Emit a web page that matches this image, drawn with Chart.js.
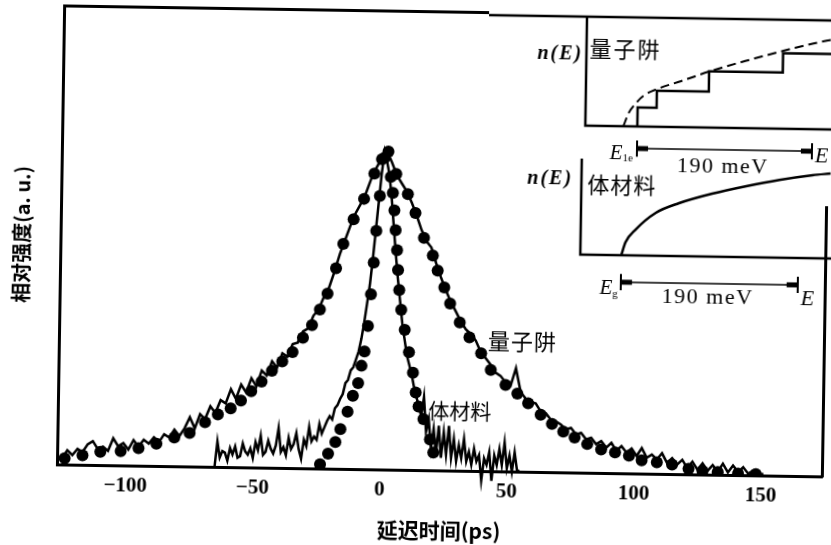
<!DOCTYPE html>
<html>
<head>
<meta charset="utf-8">
<script src="https://cdn.jsdelivr.net/npm/chart.js@4.4.1/dist/chart.umd.min.js"></script>
<style>
  html, body { margin: 0; padding: 0; background: #fff; overflow: hidden; }
  #wrap { position: relative; width: 831px; height: 545px; transform: rotate(0.9deg); transform-origin: 50% 50%; }
  canvas { position: absolute; }
  #main { left: 0; top: 0; }
  #insetQW { left: 485px; top: -4px; }
  #insetBulk { left: 485px; top: 146px; }
</style>
</head>
<body>
<div id="wrap">
  <canvas id="main" width="831" height="545"></canvas>
  <canvas id="insetQW" width="346" height="204"></canvas>
  <canvas id="insetBulk" width="346" height="175"></canvas>
</div>
<script>
// x axis ticks (delay, ps)
const xTicks = [-100, -50, 0, 50, 100, 150]
const xTickLabels = ['−100', '−50', '0', '50', '100', '150']

// quantum well: fitted points (dots)
const qwDotT = [-124, -117, -110, -102, -95, -88, -81, -75, -69, -64, -59, -55, -51, -47, -43,
  -39, -35, -31, -27.5, -24.5, -21.6, -18.4, -15.7, -11.8, -7.8, -3.9, -1, 1.5, 4.7, 9.4,
  12.5, 16, 19.6, 21.6, 24.3, 26.7, 30.6, 34.5, 39.2, 43.1, 49, 53.7, 58, 63, 67.5,
  72, 76.5, 81.5, 87, 92.5, 98, 103, 109, 115, 121.5, 127, 133, 141, 148]
const qwDotI = [0.02, 0.03, 0.042, 0.045, 0.055, 0.07, 0.09, 0.105, 0.14, 0.165, 0.185, 0.21, 0.24, 0.27, 0.305,
  0.335, 0.365, 0.41, 0.45, 0.5, 0.55, 0.63, 0.707, 0.785, 0.85, 0.93, 0.975, 1.0, 0.93, 0.867,
  0.808, 0.73, 0.675, 0.628, 0.575, 0.525, 0.466, 0.42, 0.37, 0.318, 0.272, 0.245, 0.215, 0.18, 0.152,
  0.128, 0.11, 0.09, 0.074, 0.065, 0.056, 0.042, 0.036, 0.03, 0.017, 0.011, 0.009, 0.005, 0.004]

// quantum well: measured trace
const qwLineT = [-125, -123, -121, -119, -117, -115, -113, -111, -109, -107, -105, -103, -101, -99, -97,
  -95, -93, -91, -89, -87, -85, -83, -81, -79, -77, -75, -73, -71, -69, -67,
  -65, -63, -61, -59, -57, -55, -53, -51, -49, -47, -45, -43, -41, -39, -37,
  -35, -33, -31, -29, -27, -25, -23, -21, -19, -17, -15, -13, -11, -9, -7,
  -5, -3, -1, 1, 3, 5, 7, 9, 11, 13, 15, 17, 19, 21, 23,
  25, 27, 29, 31, 33, 35, 37, 39, 41, 43, 45, 47, 49, 51, 53,
  55, 57, 59, 61, 63, 65, 67, 69, 71, 73, 75, 77, 79, 81, 83,
  85, 87, 89, 91, 93, 95, 97, 99, 101, 103, 105, 107, 109, 111, 113,
  115, 117, 119, 121, 123, 125, 127, 129, 131, 133, 135, 137, 139, 141, 143,
  145, 147, 149, 151]
const qwLineI = [0.02, 0.045, 0.03, 0.05, 0.04, 0.065, 0.075, 0.05, 0.058, 0.045, 0.085, 0.06, 0.07, 0.05, 0.08,
  0.06, 0.082, 0.07, 0.09, 0.075, 0.1, 0.09, 0.115, 0.095, 0.12, 0.155, 0.12, 0.165, 0.15, 0.19,
  0.17, 0.21, 0.2, 0.245, 0.215, 0.26, 0.235, 0.28, 0.255, 0.305, 0.29, 0.335, 0.315, 0.36, 0.35,
  0.39, 0.395, 0.43, 0.44, 0.48, 0.5, 0.54, 0.57, 0.62, 0.675, 0.72, 0.765, 0.805, 0.835, 0.87,
  0.915, 0.95, 0.98, 1.0, 0.965, 0.925, 0.9, 0.875, 0.84, 0.8, 0.755, 0.72, 0.7, 0.65, 0.605,
  0.565, 0.53, 0.5, 0.47, 0.445, 0.43, 0.41, 0.375, 0.355, 0.335, 0.31, 0.3, 0.28, 0.27, 0.325,
  0.25, 0.23, 0.22, 0.215, 0.19, 0.185, 0.165, 0.16, 0.15, 0.135, 0.14, 0.12, 0.125, 0.105, 0.11,
  0.09, 0.1, 0.08, 0.095, 0.07, 0.085, 0.065, 0.078, 0.055, 0.08, 0.05, 0.06, 0.045, 0.065, 0.035,
  0.05, 0.03, 0.045, 0.02, 0.04, 0.015, 0.035, 0.012, 0.03, 0.01, 0.035, 0.008, 0.03, 0.01, 0.025,
  0.005, 0.015, 0.003, 0.005]

// bulk material: fitted points (dots)
const bulkDotT = [-23.5, -20.4, -17.6, -15.7, -13, -11, -9, -7.8, -6.7, -5.5, -4.5, -3.6, -2.8, -1.6, 0,
  2.6, 3.5, 4.2, 4.8, 5.5, 6, 6.6, 7.5, 9, 10.8, 12.5, 13.7, 14.9, 16.9, 19.6, 21]
const bulkDotI = [0.013, 0.047, 0.084, 0.125, 0.18, 0.23, 0.27, 0.325, 0.37, 0.45, 0.55, 0.65, 0.75, 0.86, 0.98,
  0.92, 0.87, 0.815, 0.753, 0.69, 0.628, 0.565, 0.503, 0.44, 0.37, 0.306, 0.244, 0.2, 0.16, 0.097, 0.056]

// bulk material: measured trace
const bulkLineT = [-65, -64, -63, -62, -61, -60, -59, -58, -57, -56, -55, -54, -53, -52, -51,
  -50, -49, -48, -47, -46, -45, -44, -43, -42, -41, -40, -39, -38, -37, -36,
  -35, -34, -33, -32, -31, -30, -29, -28, -27, -26, -25, -24, -23, -22, -21,
  -20, -19, -18, -17, -16, -15, -14, -13, -12, -11, -10, -9, -8, -7, -6,
  -5, -4, -3, -2, -1, 0, 1, 2, 3, 4, 5, 6, 7, 8, 9,
  10, 11, 12, 13, 14, 15, 16, 17, 18, 19, 20, 21, 22, 23, 24,
  25, 26, 27, 28, 29, 30, 31, 32, 33, 34, 35, 36, 37, 38, 39,
  40, 41, 42, 43, 44, 45, 46, 47, 48, 49, 50, 51, 52, 53, 54, 55]
const bulkLineI = [0.0, 0.08, 0.03, 0.05, 0.045, 0.02, 0.06, 0.04, 0.065, 0.03, 0.035, 0.075, 0.05, 0.04, 0.06,
  0.03, 0.08, 0.055, 0.1, 0.04, 0.05, 0.085, 0.06, 0.045, 0.07, 0.125, 0.05, 0.065, 0.04, 0.095,
  0.06, 0.075, 0.11, 0.06, 0.03, 0.09, 0.07, 0.13, 0.085, 0.1, 0.09, 0.14, 0.11, 0.13, 0.15,
  0.165, 0.155, 0.19, 0.2, 0.22, 0.235, 0.27, 0.28, 0.31, 0.32, 0.345, 0.37, 0.41, 0.46, 0.52,
  0.58, 0.66, 0.75, 0.84, 0.93, 1.0, 0.97, 0.93, 0.86, 0.77, 0.68, 0.6, 0.53, 0.46, 0.41,
  0.36, 0.33, 0.3, 0.26, 0.23, 0.2, 0.17, 0.23, 0.12, 0.16, 0.07, 0.13, 0.05, 0.14, 0.04,
  0.12, 0.05, 0.14, 0.04, 0.1, 0.03, 0.08, 0.04, 0.1, 0.03, 0.06, 0.02, 0.07, 0.03, 0.05,
  -0.03, 0.04, 0.02, 0.06, -0.03, 0.05, 0.02, 0.07, 0.02, 0.09, 0.01, 0.05, 0.0, 0.06, 0.005, 0.0]

// inset: density of states, energy in meV (QW from E1e, bulk from Eg)
const spanMeV = 190
const qwStepE = [0, 20.6, 77, 157, 210.6]
const qwStepN = [0, 0.176, 0.333, 0.52, 0.70]
const qwEnvE = [-15.2, -9.8, -2.2, 6.5, 21.7, 46.7, 77, 119.4, 157.4, 191, 210.6]
const qwEnvN = [0, 0.12, 0.213, 0.287, 0.352, 0.426, 0.519, 0.63, 0.722, 0.796, 0.833]
const bulkDosE = [0, 4.3, 15, 36.5, 61.2, 96.6, 133.1, 168.5, 204, 223.3]
const bulkDosN = [0, 0.135, 0.27, 0.448, 0.552, 0.656, 0.74, 0.81, 0.865, 0.885]

const pts = (xs, ys) => xs.map((x, i) => ({ x, y: ys[i] }))

const line = (data, width, extra = {}) => ({
  data,
  showLine: true,
  borderColor: '#000',
  borderWidth: width,
  pointRadius: 0,
  clip: false,
  ...extra,
})

const dots = data => ({
  data,
  showLine: false,
  pointRadius: 6,
  pointBackgroundColor: '#000',
  pointBorderWidth: 0,
})

const textLabels = {
  id: 'textLabels',
  afterDatasetsDraw(chart, args, opts) {
    const { ctx, scales: { x, y } } = chart
    ctx.save()
    ctx.fillStyle = '#000'
    ctx.textBaseline = 'middle'
    ctx.textAlign = 'left'
    for (const t of opts.items || []) {
      ctx.letterSpacing = t.spacing || '0px'
      ctx.font = t.font
      const w = ctx.measureText(t.text).width
      let sw = 0
      if (t.sub) {
        ctx.font = t.subFont
        sw = ctx.measureText(t.sub).width
      }
      let px = x.getPixelForValue(t.x)
      const py = y.getPixelForValue(t.y)
      if (t.align === 'right') px -= w + sw
      else if (t.align === 'center') px -= (w + sw) / 2
      ctx.font = t.font
      ctx.fillText(t.text, px, py)
      if (t.sub) {
        ctx.font = t.subFont
        ctx.fillText(t.sub, px + w, py + 5)
      }
    }
    ctx.restore()
  },
}

const whiteBg = {
  id: 'whiteBg',
  beforeDraw(chart, args, opts) {
    if (!opts.on) return
    const { ctx, width, height } = chart
    ctx.save()
    ctx.fillStyle = '#fff'
    ctx.fillRect(0, 0, width, height)
    ctx.restore()
  },
}

const axisBorder = { color: '#000', width: 3 }
const hiddenGrid = { drawOnChartArea: false, drawTicks: false }
const yMax = 1.443

new Chart(document.getElementById('main'), {
  type: 'scatter',
  data: {
    datasets: [
      dots(pts(bulkDotT, bulkDotI)),
      dots(pts(qwDotT, qwDotI)),
      line(pts(bulkLineT, bulkLineI), 2.5),
      line(pts(qwLineT, qwLineI), 2.5),
    ],
  },
  options: {
    responsive: false,
    animation: false,
    devicePixelRatio: 1,
    layout: { padding: 0 },
    plugins: {
      legend: { display: false },
      tooltip: { enabled: false },
      textLabels: {
        items: [
          { text: '量子阱', x: 41.8, y: 0.41, font: '22px "Noto Sans CJK SC"', spacing: '1px' },
          { text: '体材料', x: 18.8, y: 0.19, font: '21px "Noto Sans CJK SC"' },
        ],
      },
    },
    scales: {
      x: {
        type: 'linear',
        position: 'bottom',
        min: -127,
        max: 174,
        afterFit: s => { s.height = 75 },
        afterBuildTicks: s => { s.ticks = xTicks.map(value => ({ value })) },
        grid: hiddenGrid,
        border: axisBorder,
        ticks: {
          color: '#000',
          padding: 8,
          maxRotation: 0,
          font: { family: '"Liberation Serif"', size: 21, weight: 'bold' },
          callback: v => xTickLabels[xTicks.indexOf(v)],
        },
        title: {
          display: true,
          text: '延迟时间(ps)',
          color: '#000',
          font: { family: '"Noto Sans CJK SC"', size: 21, weight: 'bold' },
          padding: { top: 0, bottom: 2 },
        },
      },
      x2: {
        type: 'linear',
        position: 'top',
        min: -127,
        max: 174,
        afterFit: s => { s.height = 11 },
        grid: hiddenGrid,
        border: axisBorder,
        ticks: { display: false },
      },
      y: {
        type: 'linear',
        position: 'left',
        min: 0,
        max: yMax,
        afterFit: s => { s.width = 60 },
        grid: hiddenGrid,
        border: axisBorder,
        ticks: { display: false },
        title: {
          display: true,
          text: '相对强度(a. u.)',
          color: '#000',
          font: { family: '"Noto Sans CJK SC"', size: 20, weight: 'bold' },
          padding: { top: 9, bottom: 0 },
        },
      },
      y2: {
        type: 'linear',
        position: 'right',
        min: 0,
        max: yMax,
        afterFit: s => { s.width = 5 },
        grid: hiddenGrid,
        border: axisBorder,
        ticks: { display: false },
      },
    },
  },
  plugins: [textLabels],
})

function insetChart(id, cfg) {
  return new Chart(document.getElementById(id), {
    type: 'scatter',
    data: { datasets: cfg.datasets },
    options: {
      responsive: false,
      animation: false,
      devicePixelRatio: 1,
      layout: { padding: 0 },
      plugins: {
        legend: { display: false },
        tooltip: { enabled: false },
        textLabels: { items: cfg.texts },
        whiteBg: { on: cfg.white },
      },
      scales: {
        x: { type: 'linear', display: false, min: cfg.xMin, max: cfg.xMax },
        y: { type: 'linear', display: false, min: cfg.yMin, max: cfg.yMax },
      },
    },
    plugins: [whiteBg, textLabels],
  })
}

// bracket "|<-- 190 meV -->|" under an inset axis
function bracket(yb, tick) {
  return [
    line([{ x: 0, y: yb }, { x: spanMeV, y: yb }], 1.5),
    line([{ x: 0, y: yb + tick }, { x: 0, y: yb - tick }], 2),
    line([{ x: spanMeV, y: yb + tick }, { x: spanMeV, y: yb - tick }], 2),
    line([{ x: 0, y: yb }, { x: 12, y: yb }], 5),
    line([{ x: spanMeV - 12, y: yb }, { x: spanMeV, y: yb }], 5),
  ]
}

const serif = '"Liberation Serif"'

insetChart('insetQW', {
  white: true,
  xMin: -162.9, xMax: 212.8, yMin: -0.713, yMax: 1.176,
  datasets: [
    line(pts(qwStepE, qwStepN), 2.5, { stepped: 'after' }),
    line(pts(qwEnvE, qwEnvN), 2, { borderDash: [9, 5], cubicInterpolationMode: 'monotone' }),
    line([{ x: -56.5, y: 1.01 }, { x: -56.5, y: 0 }, { x: 212.8, y: 0 }], 2.5),
    line([{ x: -162.9, y: 1.01 }, { x: 212.8, y: 1.01 }], 2.5),
    ...bracket(-0.204, 0.075),
  ],
  texts: [
    { text: 'n(E)', x: -60, y: 0.657, align: 'right', font: `italic bold 20px ${serif}`, spacing: '2px' },
    { text: '量子阱', x: -53.2, y: 0.713, font: '22px "Noto Sans CJK SC"', spacing: '2px' },
    { text: 'E', sub: '1e', x: -4.3, y: -0.25, align: 'right', font: `italic 21px ${serif}`, subFont: `11px ${serif}` },
    { text: '190 meV', x: 93.4, y: -0.361, align: 'center', font: `22px ${serif}`, spacing: '1.5px' },
    { text: 'E', x: 193.3, y: -0.25, font: `italic 22px ${serif}` },
  ],
})

insetChart('insetBulk', {
  white: false,
  xMin: -146, xMax: 225.5, yMin: -0.719, yMax: 1.104,
  datasets: [
    line(pts(bulkDosE, bulkDosN), 2.5, { cubicInterpolationMode: 'monotone' }),
    line([{ x: -44, y: 1.0 }, { x: -44, y: 0 }, { x: 225.5, y: 0 }], 2.5),
    ...bracket(-0.281, 0.085),
  ],
  texts: [
    { text: 'n(E)', x: -53, y: 0.78, align: 'right', font: `italic bold 20px ${serif}`, spacing: '2px' },
    { text: '体材料', x: -37.6, y: 0.73, font: '22px "Noto Sans CJK SC"', spacing: '1px' },
    { text: 'E', sub: 'g', x: -3.2, y: -0.354, align: 'right', font: `italic 21px ${serif}`, subFont: `11px ${serif}` },
    { text: '190 meV', x: 93.4, y: -0.427, align: 'center', font: `22px ${serif}`, spacing: '1.5px' },
    { text: 'E', x: 193.2, y: -0.427, font: `italic 22px ${serif}` },
  ],
})
</script>
</body>
</html>
